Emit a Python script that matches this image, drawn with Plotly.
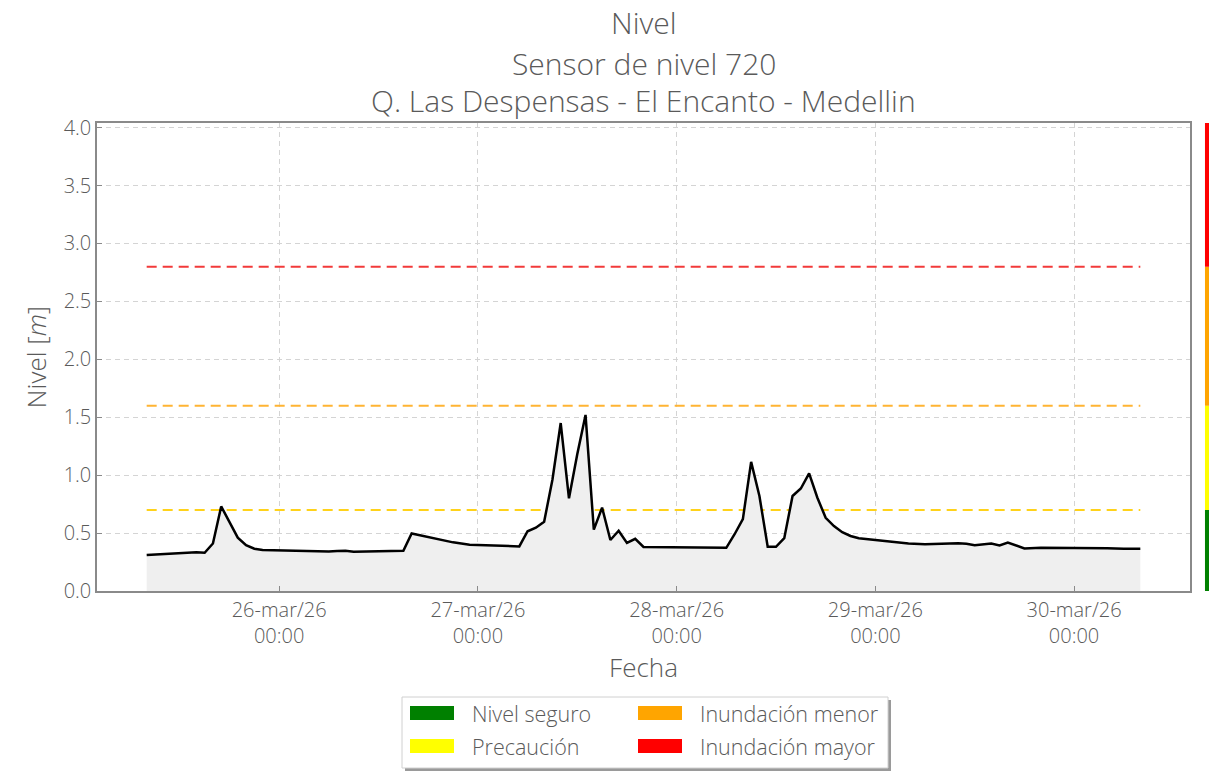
import plotly.graph_objects as go

# Hourly level readings (m), sensor 720
fechas = [
    "2026-03-25 08:00", "2026-03-25 10:00", "2026-03-25 12:00", "2026-03-25 13:00",
    "2026-03-25 14:00", "2026-03-25 15:00", "2026-03-25 16:00", "2026-03-25 17:00",
    "2026-03-25 18:00", "2026-03-25 19:00", "2026-03-25 20:00", "2026-03-25 21:00",
    "2026-03-25 22:00", "2026-03-26 00:00", "2026-03-26 02:00", "2026-03-26 04:00",
    "2026-03-26 06:00", "2026-03-26 07:00", "2026-03-26 08:00", "2026-03-26 09:00",
    "2026-03-26 11:00", "2026-03-26 13:00", "2026-03-26 15:00", "2026-03-26 16:00",
    "2026-03-26 19:00", "2026-03-26 21:00", "2026-03-26 23:00", "2026-03-27 02:00",
    "2026-03-27 04:00", "2026-03-27 05:00", "2026-03-27 06:00", "2026-03-27 07:00",
    "2026-03-27 08:00", "2026-03-27 09:00", "2026-03-27 10:00", "2026-03-27 11:00",
    "2026-03-27 12:00", "2026-03-27 13:00", "2026-03-27 14:00", "2026-03-27 15:00",
    "2026-03-27 16:00", "2026-03-27 17:00", "2026-03-27 18:00", "2026-03-27 19:00",
    "2026-03-27 20:00", "2026-03-27 22:00", "2026-03-28 00:00", "2026-03-28 06:00",
    "2026-03-28 07:00", "2026-03-28 08:00", "2026-03-28 09:00", "2026-03-28 10:00",
    "2026-03-28 11:00", "2026-03-28 12:00", "2026-03-28 13:00", "2026-03-28 14:00",
    "2026-03-28 15:00", "2026-03-28 16:00", "2026-03-28 17:00", "2026-03-28 18:00",
    "2026-03-28 19:00", "2026-03-28 20:00", "2026-03-28 21:00", "2026-03-28 22:00",
    "2026-03-29 00:00", "2026-03-29 02:00", "2026-03-29 04:00", "2026-03-29 06:00",
    "2026-03-29 08:00", "2026-03-29 10:00", "2026-03-29 11:00", "2026-03-29 12:00",
    "2026-03-29 14:00", "2026-03-29 15:00", "2026-03-29 16:00", "2026-03-29 18:00",
    "2026-03-29 20:00", "2026-03-30 00:00", "2026-03-30 04:00", "2026-03-30 06:00",
    "2026-03-30 08:00",
]
nivel = [
    0.31, 0.32, 0.325, 0.335,
    0.335, 0.33, 0.41, 0.73,
    0.59, 0.46, 0.395, 0.365,
    0.355, 0.35, 0.345, 0.342,
    0.34, 0.345, 0.348, 0.338,
    0.34, 0.345, 0.347, 0.497,
    0.45, 0.42, 0.40, 0.39,
    0.387, 0.385, 0.516, 0.546,
    0.598, 0.96, 1.45, 0.80,
    1.18, 1.52, 0.53, 0.72,
    0.44, 0.52, 0.415, 0.45,
    0.38, 0.378, 0.373, 0.373,
    0.49, 0.62, 1.115, 0.82,
    0.382, 0.382, 0.456, 0.82,
    0.885, 1.015, 0.805, 0.632,
    0.56, 0.508, 0.475, 0.455,
    0.44, 0.427, 0.41, 0.404,
    0.407, 0.413, 0.407, 0.396,
    0.41, 0.393, 0.419, 0.367,
    0.373, 0.373, 0.37, 0.364,
    0.364,
]

# Alert thresholds (m)
umbral_nombres = ["Precaución", "Inundación menor", "Inundación mayor"]
umbral_valores = [0.7, 1.6, 2.8]
umbral_colores = ["#ffd21a", "#ffb433", "#f23a3a"]

# Alert bands for the side bar and legend
bandas = ["Nivel seguro", "Precaución", "Inundación menor", "Inundación mayor"]
bandas_colores = ["#008000", "#ffff00", "#ffa500", "#ff0000"]
bandas_limites = [0.0, 0.7, 1.6, 2.8, 4.04]

dias = ["2026-03-26", "2026-03-27", "2026-03-28", "2026-03-29", "2026-03-30"]
dias_texto = ["26-mar/26<br>00:00", "27-mar/26<br>00:00", "28-mar/26<br>00:00",
              "29-mar/26<br>00:00", "30-mar/26<br>00:00"]

FONT = "Open Sans"
GRIS = "#5a5a5a"

fig = go.Figure()

for nombre, valor, color in zip(umbral_nombres, umbral_valores, umbral_colores):
    fig.add_trace(go.Scatter(
        x=[fechas[0], fechas[-1]], y=[valor, valor], mode="lines",
        line=dict(color=color, width=2, dash="10px,6px"),
        name=nombre, showlegend=False, hoverinfo="skip",
    ))

fig.add_trace(go.Scatter(
    x=fechas, y=nivel, mode="lines", fill="tozeroy",
    fillcolor="#efefef", line=dict(color="black", width=2.5),
    name="Nivel", showlegend=False,
))

# Side bar of alert bands (outside the plot area, right edge)
for i, color in enumerate(bandas_colores):
    fig.add_shape(type="rect", xref="paper", yref="y",
                  x0=1.0137, x1=1.03, y0=bandas_limites[i], y1=bandas_limites[i + 1],
                  fillcolor=color, line=dict(width=0), layer="above")

# Legend box drawn in paper coordinates
def px_x(px):
    return (px - 97) / 1093

def px_y(py):
    return (591 - py) / 468

fig.add_shape(type="rect", xref="paper", yref="paper",
              x0=px_x(405), x1=px_x(891), y0=px_y(771), y1=px_y(700),
              fillcolor="#9a9a9a", line=dict(width=0))
fig.add_shape(type="rect", xref="paper", yref="paper",
              x0=px_x(402), x1=px_x(888), y0=px_y(768), y1=px_y(697),
              fillcolor="white", line=dict(color="#d0d0d0", width=1))

pos_legend = [(410, 713), (410, 746), (638, 713), (638, 746)]
for (lx, ly), nombre, color in zip(pos_legend, bandas, bandas_colores):
    fig.add_shape(type="rect", xref="paper", yref="paper",
                  x0=px_x(lx), x1=px_x(lx + 44), y0=px_y(ly + 7), y1=px_y(ly - 7),
                  fillcolor=color, line=dict(width=0))
    fig.add_annotation(xref="paper", yref="paper", x=px_x(lx + 60), y=px_y(ly),
                       xanchor="left", yanchor="middle", showarrow=False,
                       text=nombre, font=dict(family=FONT, size=21.5, color=GRIS, weight=300))

# Three-line title
titulos = ["Nivel", "Sensor de nivel 720", "Q. Las Despensas - El Encanto - Medellin"]
for texto, py in zip(titulos, [22, 63, 101]):
    fig.add_annotation(xref="paper", yref="paper", x=0.5, y=px_y(py),
                       xanchor="center", yanchor="middle", showarrow=False,
                       text=texto, font=dict(family=FONT, size=30, color=GRIS, weight=300))

grid = dict(showgrid=True, gridcolor="#d4d4d4", gridwidth=1, griddash="5px,4px")
axis_common = dict(
    showline=True, linecolor="#8a8a8a", linewidth=1.5, mirror=True,
    ticks="inside", ticklen=5, tickcolor="#8a8a8a",
    tickfont=dict(family=FONT, size=20, color=GRIS, weight=300),
    zeroline=False, **grid,
)

fig.update_layout(
    width=1209, height=774,
    margin=dict(l=97, r=19, t=123, b=183),
    paper_bgcolor="white", plot_bgcolor="white",
    showlegend=False,
    xaxis=dict(
        type="date", range=["2026-03-25 02:00", "2026-03-30 14:00"],
        tickvals=dias, ticktext=dias_texto,
        title=dict(text="Fecha", standoff=6,
                   font=dict(family=FONT, size=26, color=GRIS, weight=300)),
        **axis_common,
    ),
    yaxis=dict(
        range=[0, 4.04], tickvals=[0, 0.5, 1, 1.5, 2, 2.5, 3, 3.5, 4],
        tickformat=".1f",
        title=dict(text="Nivel [<i>m</i>]", standoff=10,
                   font=dict(family=FONT, size=26, color=GRIS, weight=300)),
        **axis_common,
    ),
)

fig.write_html("out.html")
